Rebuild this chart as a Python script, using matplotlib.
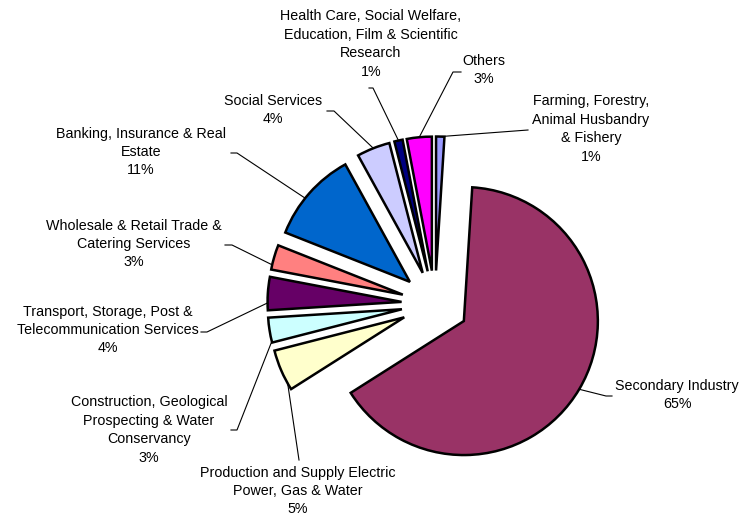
import matplotlib.pyplot as plt
import numpy as np

sectors = [
    'Farming, Forestry,\nAnimal Husbandry\n& Fishery',
    'Secondary Industry',
    'Production and Supply Electric\nPower, Gas & Water',
    'Construction, Geological\nProspecting & Water\nConservancy',
    'Transport, Storage, Post &\nTelecommunication Services',
    'Wholesale & Retail Trade &\nCatering Services',
    'Banking, Insurance & Real\nEstate',
    'Social Services',
    'Health Care, Social Welfare,\nEducation, Film & Scientific\nResearch',
    'Others',
]
shares = [1, 65, 5, 3, 4, 3, 11, 4, 1, 3]
colors = ['#9999FF', '#993366', '#FFFFCC', '#CCFFFF', '#660066',
          '#FF8080', '#0066CC', '#CCCCFF', '#000080', '#FF00FF']

# pie centre and radius in pixels (image coords, y downwards)
CX, CY, R = 435, 304, 134


def px(x, y):
    """pixel position -> data units of the unit-radius pie"""
    return (x - CX) / R, (CY - y) / R


# (text centre, elbow points, where on the arc the leader meets: 0..1)
label_layout = [
    ((591, 129), [(528, 130)], 0.5),
    ((677, 395), [(606, 396), (612, 396)], 0.5),
    ((298, 491), [(299, 460)], 0.84),
    ((149, 430), [(237, 430), (231, 430)], 0.95),
    ((108, 330), [(207, 332), (201, 332)], 0.78),
    ((134, 244), [(232, 245), (225, 245)], 0.81),
    ((141, 152), [(237, 153), (231, 153)], 0.57),
    ((273, 110), [(334, 111), (327, 111)], 0.5),
    ((371, 44), [(373, 88), (369, 88)], 0.5),
    ((484, 70), [(453, 72), (461, 72)], 0.5),
]

fig = plt.figure(figsize=(7.41, 5.22), dpi=100)
ax = fig.add_axes([0, 0, 1, 1])

wedges, _ = ax.pie(shares, colors=colors, startangle=90, counterclock=False,
                   explode=[0.25] * len(shares), radius=1,
                   wedgeprops=dict(edgecolor='black', linewidth=1.8))

for w, name, pct, (tpos, elbows, frac) in zip(wedges, sectors, shares, label_layout):
    ang = np.deg2rad(w.theta1 + frac * (w.theta2 - w.theta1))
    x0 = w.center[0] + w.r * np.cos(ang)
    y0 = w.center[1] + w.r * np.sin(ang)
    pts = [(x0, y0)] + [px(*p) for p in elbows]
    xs, ys = zip(*pts)
    ax.plot(xs, ys, color='black', linewidth=0.8)
    tx, ty = px(*tpos)
    ax.text(tx, ty, f'{name}\n{pct}%', ha='center', va='center',
            fontsize=10.3, family='Liberation Sans', linespacing=1.4,
            color='black')

ax.set_xlim(-CX / R, (741 - CX) / R)
ax.set_ylim(-(522 - CY) / R, CY / R)
ax.set_aspect('auto')
ax.axis('off')

fig.savefig('out.png', dpi=100)
